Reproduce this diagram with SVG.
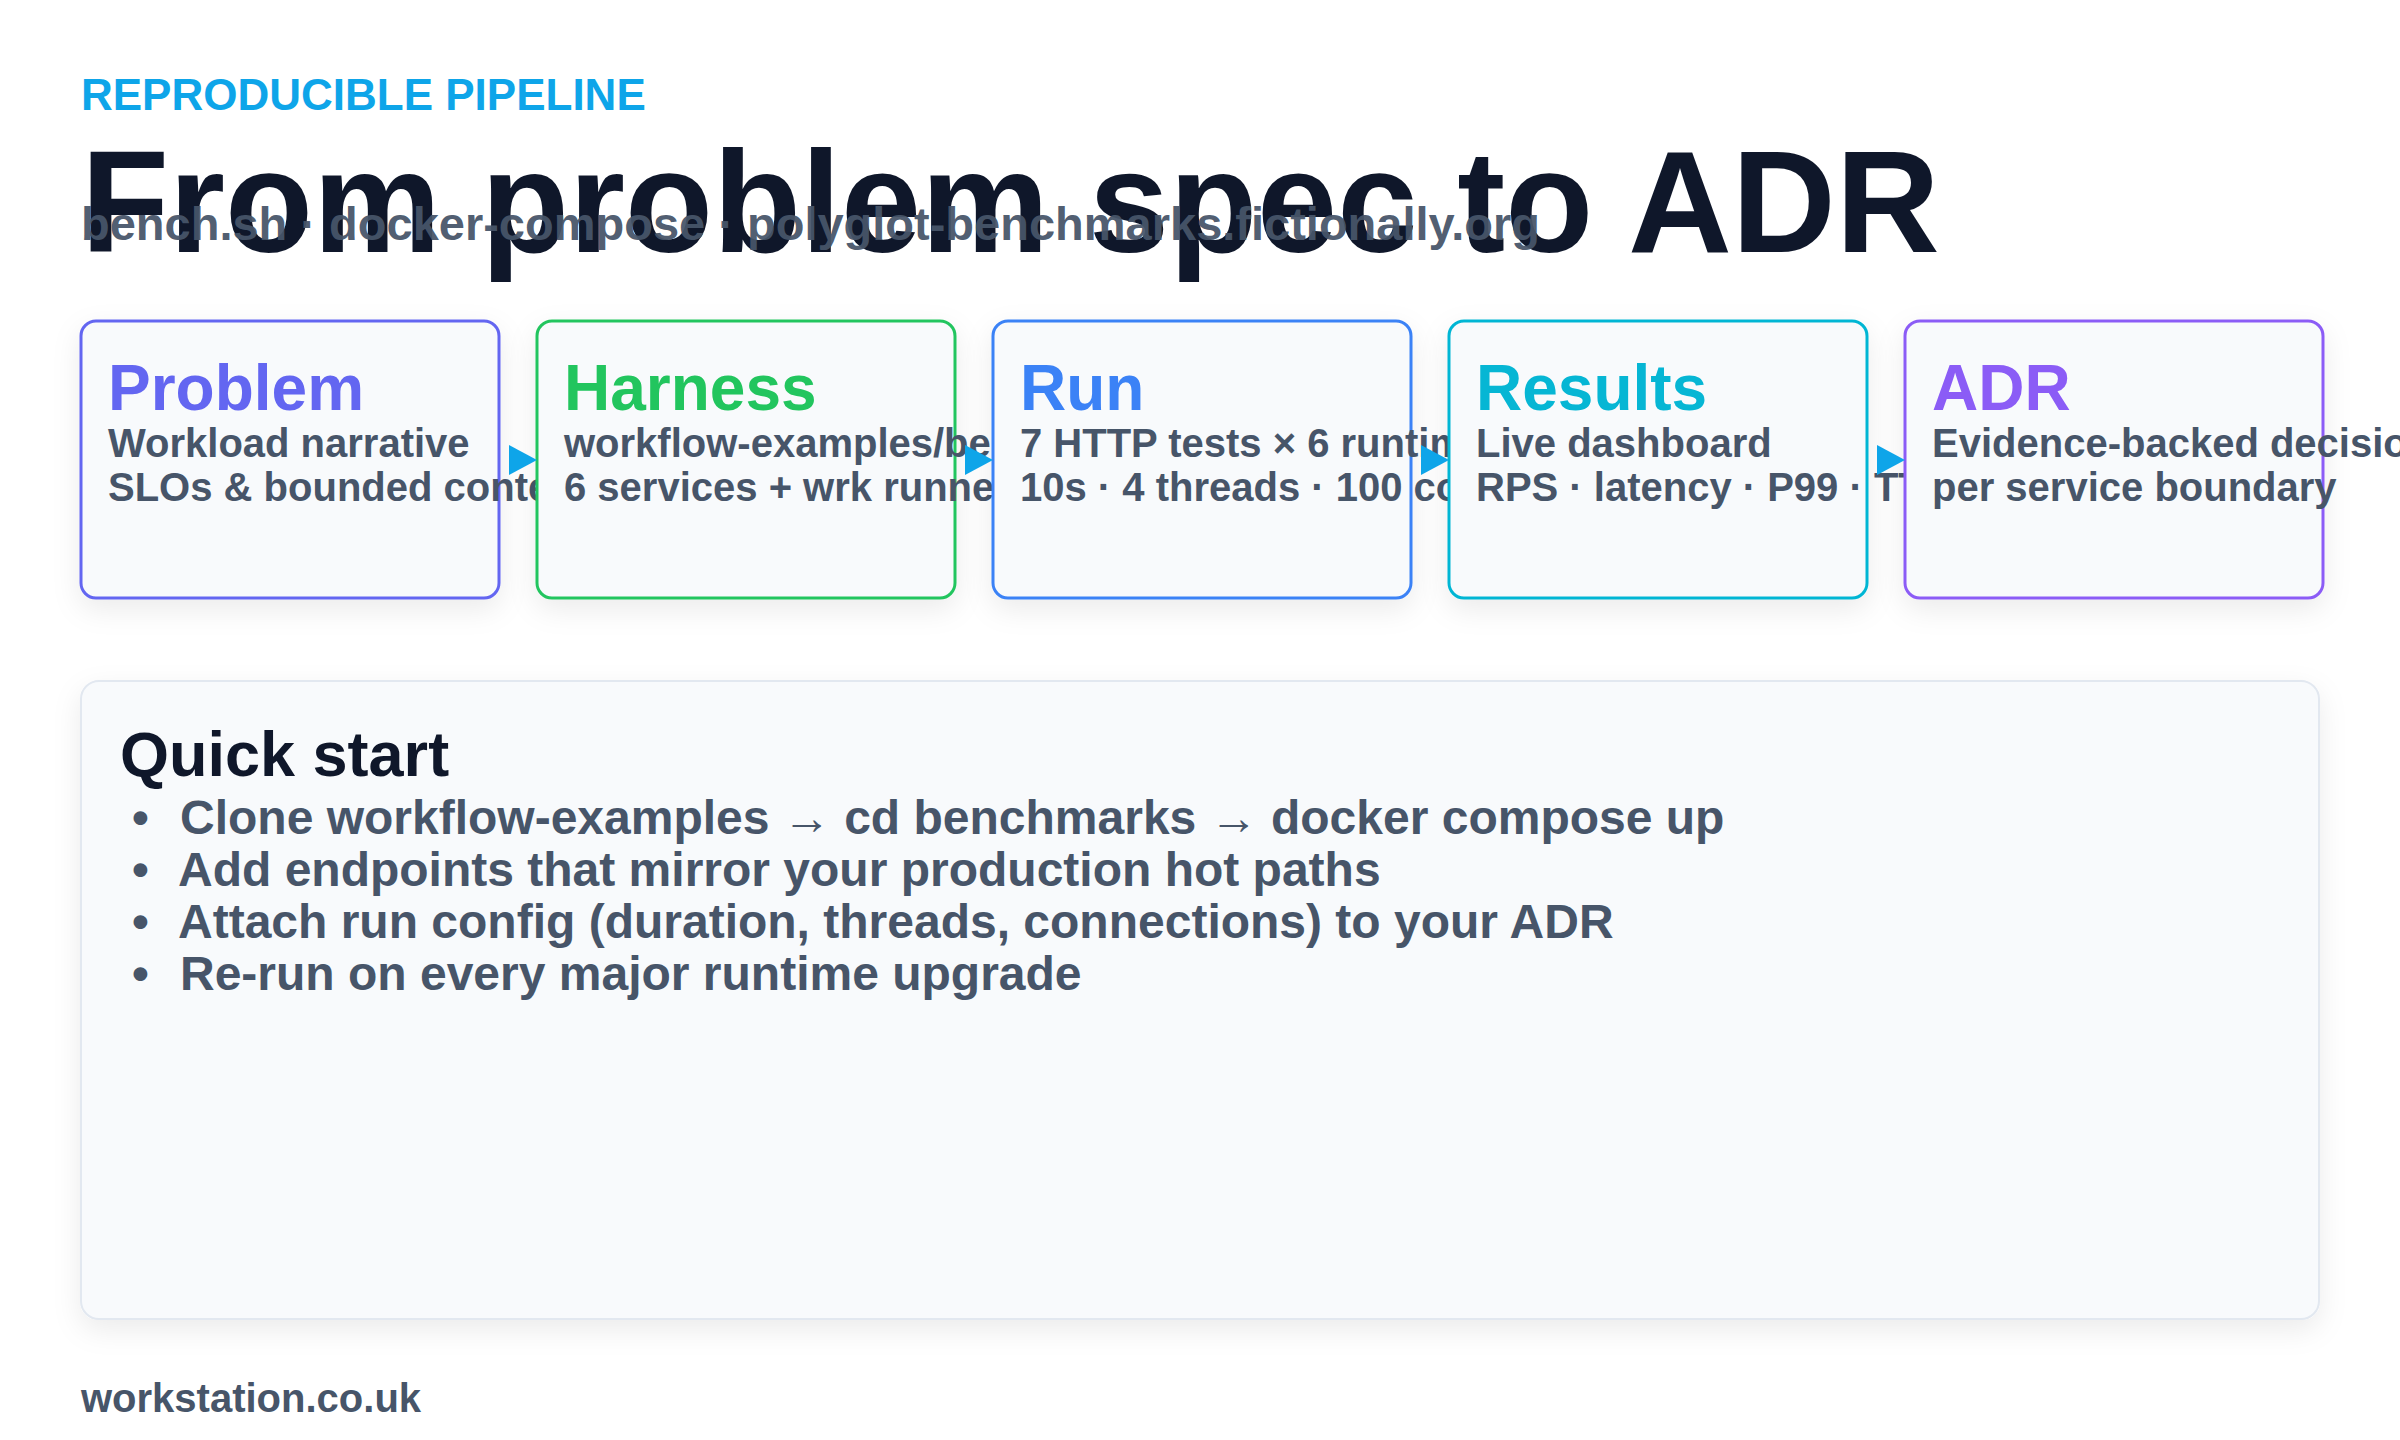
<svg xmlns="http://www.w3.org/2000/svg" width="2400" height="1440" viewBox="0 0 2400 1440">
<style>
text{font-family:"Liberation Sans",Arial,sans-serif;font-weight:bold}
.box{fill:#f8fafc;stroke-width:3}
.nt{font-size:64px}
.ns{font-size:40px;fill:#475569}
.bul{font-size:48px;fill:#475569}
.arr{fill:#0ea5e9}
</style>
<defs>
<filter id="sh" x="-20%" y="-20%" width="140%" height="150%"><feDropShadow dx="0" dy="10" stdDeviation="14" flood-color="#0f172a" flood-opacity="0.08"/></filter>
<clipPath id="c1"><rect x="81" y="300" width="456" height="320"/></clipPath>
<clipPath id="c2"><rect x="537" y="300" width="456" height="320"/></clipPath>
<clipPath id="c3"><rect x="993" y="300" width="456" height="320"/></clipPath>
<clipPath id="c4"><rect x="1449" y="300" width="456" height="320"/></clipPath>
<clipPath id="c5"><rect x="1905" y="300" width="495" height="320"/></clipPath>
</defs>
<rect width="2400" height="1440" fill="#ffffff"/>
<text x="81" y="110" font-size="44" fill="#0ea5e9">REPRODUCIBLE PIPELINE</text>
<text x="81" y="252" font-size="144" fill="#0f172a">From problem spec to ADR</text>
<text x="81" y="240" font-size="47" fill="#475569" fill-opacity="0.95">bench.sh · docker-compose · polyglot-benchmarks.fictionally.org</text>
<g id="problem"><rect class="box" x="81" y="321" width="418" height="277" rx="15" stroke="#6366f1" filter="url(#sh)"/><g clip-path="url(#c1)"><text class="nt" x="108" y="410" fill="#6366f1">Problem</text><text class="ns" x="108" y="457">Workload narrative</text><text class="ns" x="108" y="501">SLOs &amp; bounded context</text></g></g>
<g id="harness"><rect class="box" x="537" y="321" width="418" height="277" rx="15" stroke="#22c55e" filter="url(#sh)"/><g clip-path="url(#c2)"><text class="nt" x="564" y="410" fill="#22c55e">Harness</text><text class="ns" x="564" y="457">workflow-examples/benchmarks</text><text class="ns" x="564" y="501">6 services + wrk runner</text></g></g>
<g id="run"><rect class="box" x="993" y="321" width="418" height="277" rx="15" stroke="#3b82f6" filter="url(#sh)"/><g clip-path="url(#c3)"><text class="nt" x="1020" y="410" fill="#3b82f6">Run</text><text class="ns" x="1020" y="457">7 HTTP tests × 6 runtimes</text><text class="ns" x="1020" y="501">10s · 4 threads · 100 connections</text></g></g>
<g id="results"><rect class="box" x="1449" y="321" width="418" height="277" rx="15" stroke="#06b6d4" filter="url(#sh)"/><g clip-path="url(#c4)"><text class="nt" x="1476" y="410" fill="#06b6d4">Results</text><text class="ns" x="1476" y="457">Live dashboard</text><text class="ns" x="1476" y="501">RPS · latency · P99 · TTFB</text></g></g>
<g id="adr"><rect class="box" x="1905" y="321" width="418" height="277" rx="15" stroke="#8b5cf6" filter="url(#sh)"/><g clip-path="url(#c5)"><text class="nt" x="1932" y="410" fill="#8b5cf6">ADR</text><text class="ns" x="1932" y="457">Evidence-backed decision</text><text class="ns" x="1932" y="501">per service boundary</text></g></g>
<g id="connectors">
<polygon class="arr" points="509,445 537,460 509,475"/>
<polygon class="arr" points="965,445 993,460 965,475"/>
<polygon class="arr" points="1421,445 1449,460 1421,475"/>
<polygon class="arr" points="1877,445 1905,460 1877,475"/>
</g>
<g id="quickstart">
<rect x="81" y="681" width="2238" height="638" rx="18" fill="#f8fafc" stroke="#e2e8f0" stroke-width="2" filter="url(#sh)"/>
<text x="120" y="776" font-size="63" fill="#0f172a">Quick start</text>
<text class="bul" x="132" y="834">•</text><text class="bul" x="180" y="834">Clone workflow-examples → cd benchmarks → docker compose up</text>
<text class="bul" x="132" y="886">•</text><text class="bul" x="178" y="886">Add endpoints that mirror your production hot paths</text>
<text class="bul" x="132" y="938">•</text><text class="bul" x="178" y="938">Attach run config (duration, threads, connections) to your ADR</text>
<text class="bul" x="132" y="990">•</text><text class="bul" x="180" y="990">Re-run on every major runtime upgrade</text>
</g>
<text x="81" y="1412" font-size="40" fill="#475569">workstation.co.uk</text>
</svg>
